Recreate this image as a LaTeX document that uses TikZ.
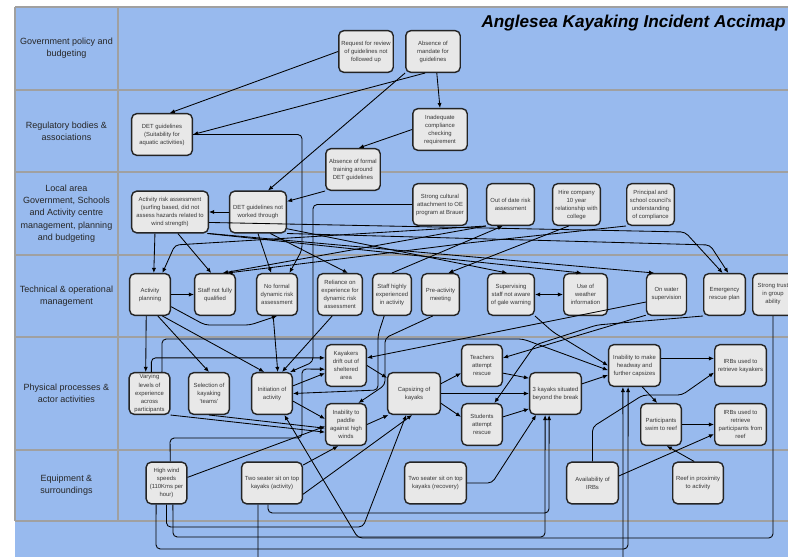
\documentclass[tikz,border=0pt]{standalone}
\usepackage{fontspec}
\setmainfont{Liberation Sans}
\usetikzlibrary{arrows.meta}
\definecolor{accblue}{RGB}{152,186,238}
\definecolor{accgrid}{RGB}{160,160,160}
\definecolor{accbox}{RGB}{232,232,232}
\definecolor{accedge}{RGB}{36,36,36}
\definecolor{acctext}{RGB}{55,55,55}
\tikzset{
  %% ---- boxes ----
  cause/.style   = {rectangle, rounded corners=3.5pt,
                    draw=accedge, line width=1pt,
                    fill=accbox, minimum width=#1, minimum height=1.04cm,
                    inner sep=1pt, align=center, text=acctext,
                    font=\fontsize{4.2}{5.7}\selectfont},
  cause/.default = 1.015cm,
  lanelabel/.style = {align=center, text=black!85,
                    font=\fontsize{6.4}{8.7}\selectfont},
  %% ---- arrows ----
  arr/.style     = {-{Latex[length=3.6pt,width=3pt]}, line width=0.6pt,
                    rounded corners=3pt},
  dblarr/.style  = {{Latex[length=3.6pt,width=3pt]}-{Latex[length=3.6pt,width=3pt]},
                    line width=0.6pt},
}

\begin{document}
\begin{tikzpicture}[x=0.025cm, y=-0.025cm]
\useasboundingbox (0,0) rectangle (788,557);
\clip (0,0) rectangle (788,557);

%% lanes
\fill[accblue] (15,7) rectangle (810,575);
\draw[accgrid, line width=0.8pt] (15,7) -- (810,7);
\foreach \y in {90,172,255,337,450,521}
  \draw[accgrid, line width=0.8pt] (15,\y) -- (810,\y);
\draw[accgrid, line width=0.8pt] (15,7) -- (15,521) (118,7) -- (118,521);

\node[lanelabel] (lgov) at (66.5,48.5)  {Government policy and\\budgeting};
\node[lanelabel] (lreg) at (66.5,131)   {Regulatory bodies \&\\associations};
\node[lanelabel] (lloc) at (66.5,213.5) {Local area\\Government, Schools\\and Activity centre\\management, planning\\and budgeting};
\node[lanelabel] (ltec) at (66.5,296)   {Technical \& operational\\management};
\node[lanelabel] (lphy) at (66.5,393.5) {Physical processes \&\\actor activities};
\node[lanelabel] (lequ) at (66.5,485.5) {Equipment \&\\surroundings};

\node[anchor=base east, inner sep=0pt, font=\fontsize{12.2}{14}\selectfont\bfseries\itshape]
  (title) at (786,28) {Anglesea Kayaking Incident Accimap};

%% government & regulatory
\node[cause=1.36cm]  (req)     at (366,51.5)  {Request for review\\of guidelines not\\followed up};
\node[cause=1.36cm]  (mandate) at (433,51.5)  {Absence of\\mandate for\\guidelines};
\node[cause=1.515cm] (detg)    at (162,134.5) {DET guidelines\\(Suitability for\\aquatic activities)};
\node[cause=1.36cm]  (inadeq)  at (440,129.5) {Inadequate\\compliance\\checking\\requirement};
\node[cause=1.36cm]  (absform) at (353,169.5) {Absence of formal\\training around\\DET guidelines};

%% local area
\node[cause=1.915cm] (ara)       at (170,212)   {Activity risk assessment\\(surfing based, did not\\assess hazards related to\\wind strength)};
\node[cause=1.415cm] (detnot)    at (258,212)   {DET guidelines not\\worked through};
\node[cause=1.36cm]  (cultural)  at (440,204.5) {Strong cultural\\attachment to OE\\program at Brauer};
\node[cause=1.19cm]  (outdate)   at (510.5,204.5) {Out of date risk\\assessment};
\node[cause=1.19cm]  (hire)      at (576.5,204.5) {Hire company\\10 year\\relationship with\\college};
\node[cause=1.19cm]  (principal) at (650.5,204.5) {Principal and\\school council's\\understanding\\of compliance};

%% technical & operational
\node[cause]         (actplan)   at (150,294.5)   {Activity\\planning};
\node[cause]         (staffnq)   at (215,294.5)   {Staff not fully\\qualified};
\node[cause]         (noformal)  at (277,294.5)   {No formal\\dynamic risk\\assessment};
\node[cause=1.115cm] (reliance)  at (340,294.5)   {Reliance on\\experience for\\dynamic risk\\assessment};
\node[cause=0.965cm] (staffhigh) at (392,294.5)   {Staff highly\\experienced\\in activity};
\node[cause=0.94cm]  (preact)    at (440.5,294.5) {Pre-activity\\meeting};
\node[cause=1.165cm] (superv)    at (511,294.5)   {Supervising\\staff not aware\\of gale warning};
\node[cause=1.09cm]  (weather)   at (585.5,294.5) {Use of\\weather\\information};
\node[cause=1.0cm]   (onwater)   at (666.5,294.5) {On water\\supervision};
\node[cause=1.04cm]  (emerg)     at (724.5,294.5) {Emergency\\rescue plan};
\node[cause]         (trust)     at (773,294.5)   {Strong trust\\in group\\ability};

%% physical processes
\node[cause]         (varying)    at (149.5,393.5) {Varying\\levels of\\experience\\across\\participants};
\node[cause]         (selection)  at (209,393.5)   {Selection of\\kayaking\\`teams'};
\node[cause]         (initiation) at (272,393.5)   {Initiation of\\activity};
\node[cause]         (drift)      at (346,365.5)   {Kayakers\\drift out of\\sheltered\\area};
\node[cause]         (inability)  at (346,424.5)   {Inability to\\paddle\\against high\\winds};
\node[cause=1.315cm] (capsizing)  at (414,393.5)   {Capsizing of\\kayaks};
\node[cause]         (teachers)   at (482,365.5)   {Teachers\\attempt\\rescue};
\node[cause]         (students)   at (482,424.5)   {Students\\attempt\\rescue};
\node[cause=1.29cm]  (threekay)   at (555.5,393.5) {3 kayaks situated\\beyond the break};
\node[cause=1.29cm]  (headway)    at (634.5,365.5) {Inability to make\\headway and\\further capsizes};
\node[cause=1.29cm]  (irbk)       at (740.5,365.5) {IRBs used to\\retrieve kayakers};
\node[cause]         (swim)       at (661,424.5)   {Participants\\swim to reef};
\node[cause=1.29cm]  (irbp)       at (740.5,424.5) {IRBs used to\\retrieve\\participants from\\reef};

%% equipment & surroundings
\node[cause]         (wind)   at (166.5,483) {High wind\\speeds\\(110Kms per\\hour)};
\node[cause=1.515cm] (twoact) at (272,483)   {Two seater sit on top\\kayaks (activity)};
\node[cause=1.54cm]  (tworec) at (435.5,483) {Two seater sit on top\\kayaks (recovery)};
\node[cause=1.29cm]  (avail)  at (592.5,483) {Availability of\\IRBs};
\node[cause=1.265cm] (reef)   at (698,483)   {Reef in proximity\\to activity};

%% links: government & regulatory
\draw[arr] (req.west) -- (detg.70);
\draw[arr] (mandate.250) -- (detg.east);
\draw[arr] (mandate.south west) -- (detnot.65);
\draw[arr] (mandate.280) -- (inadeq.north);
\draw[arr] (inadeq.west) -- (absform.75);
\draw[arr] (absform.south west) -- (detnot.20);
\draw[arr] (detnot.west) -- (ara.east);
\draw[arr] (detg.east) -| (302,250) -- (noformal.60);

%% links: local area to operations
\draw[arr] (ara.235) -- (actplan.80);
\draw[arr] (ara.290) -- (staffnq.100);
\draw[arr] (ara.south east) -- (onwater.120);
\draw[arr] (ara.330) -- (weather.100);
\draw[arr] (ara.345) -- (685,232) -- (emerg.95);
\draw[arr] (detnot.330) -- (superv.100);
\draw[arr] (detnot.south east) -- (710,245) -- (emerg.80);
\draw[arr] (detnot.south) -- (noformal.105);
\draw[arr] (detnot.300) -- (reliance.70);
\draw[arr] (outdate.south west) -- (175,245) -- (actplan.60);
\draw[arr] (outdate.south west) -- (staffnq.70);
\draw[arr] (staffhigh.north) -- (outdate.250);
\draw[arr] (hire.250) -- (preact.70);
\draw[arr] (principal.south west) -- (468,243) -- (staffnq.60);
\draw[arr] (cultural.west) -- (313,204.5) -- (313,362) -- (initiation.50);
\draw[arr] (trust.south) -- (773,538) -- (358,538) -- (initiation.300);

%% links: operations
\draw[arr] (actplan.east) -- (staffnq.west);
\draw[arr] (actplan.330) -- (205,325) -- (250,325) -- (noformal.south);
\draw[arr] (actplan.260) -- (varying.100);
\draw[arr] (actplan.290) -- (selection.north);
\draw[arr] (actplan.300) -- (initiation.110);
\draw[arr] (noformal.260) -- (initiation.75);
\draw[arr] (reliance.250) -- (initiation.65);
\draw[arr] (preact.250) -- (385,338) -- (385,385) -- (inability.60);
\draw[arr] (staffhigh.250) -- (378,335) -- (378,390) -- (initiation.east);
\draw[dblarr] (superv.east) -- (weather.west);
\draw[arr] (superv.south east) -- (553,332) -- (headway.west);
\draw[arr] (onwater.200) -- (drift.20);
\draw[arr] (onwater.225) -- (teachers.20);
\draw[arr] (emerg.south west) -- (597,325) -- (535,345) -- (students.60);

%% links: physical processes
\draw[arr] (varying.85) |- (drift.160);
\draw[arr] (varying.60) -- (162,339) -- (523,339) -- (headway.190);
\draw[arr] (varying.south east) -- (inability.200);
\draw[arr] (selection.south) -- (inability.190);
\draw[arr] (initiation.20) -- (drift.200);
\draw[arr] (initiation.340) -- (inability.165);
\draw[arr] (drift.east) -- (capsizing.150);
\draw[arr] (inability.east) -- (capsizing.220);
\draw[arr] (capsizing.20) -- (teachers.200);
\draw[arr] (capsizing.340) -- (students.160);
\draw[arr] (capsizing.east) -- (threekay.west);
\draw[arr] (teachers.340) -- (threekay.150);
\draw[arr] (students.20) -- (threekay.210);
\draw[arr] (threekay.20) -- (headway.200);
\draw[arr] (headway.15) -- (irbk.165);
\draw[arr] (headway.290) -- (swim.100);
\draw[arr] (swim.east) -- (irbp.west);

%% links: equipment & surroundings
\draw[arr] (avail.north) -- (592.5,427) -- (643,395) -- (682,395) -- (irbk.195);
\draw[arr] (avail.15) -- (irbp.200);
\draw[arr] (reef.100) -- (swim.285);
\draw[arr] (wind.15) -- (inability.185);
\draw[arr] (wind.80) -- (170,438) -- (302,438) -- (302,369) -- (drift.190);
\draw[arr] (wind.south) -- (166.5,527) -- (363,527) -- (capsizing.250);
\draw[arr] ([xshift=0.16cm]wind.south) -- (173,537) -- (545,537) -- ([xshift=-0.26cm]threekay.south);
\draw[arr] ([xshift=-0.26cm]wind.south) -- (156,549) -- (628,549) -- ([xshift=-0.16cm]headway.south);
\draw[arr] ([xshift=-0.1cm]twoact.south) -- (268,513) -- (549,513) -- ([xshift=-0.16cm]threekay.south);
\draw[arr] ([xshift=-0.35cm]twoact.south) -- (258,575) -- (623,575) -- ([xshift=-0.29cm]headway.south);
\draw[arr] (twoact.30) -- (inability.250);
\draw[arr] (twoact.340) -- (capsizing.265);
\draw[arr] (tworec.east) -- (492,483) -- (threekay.228);
\end{tikzpicture}
\end{document}
